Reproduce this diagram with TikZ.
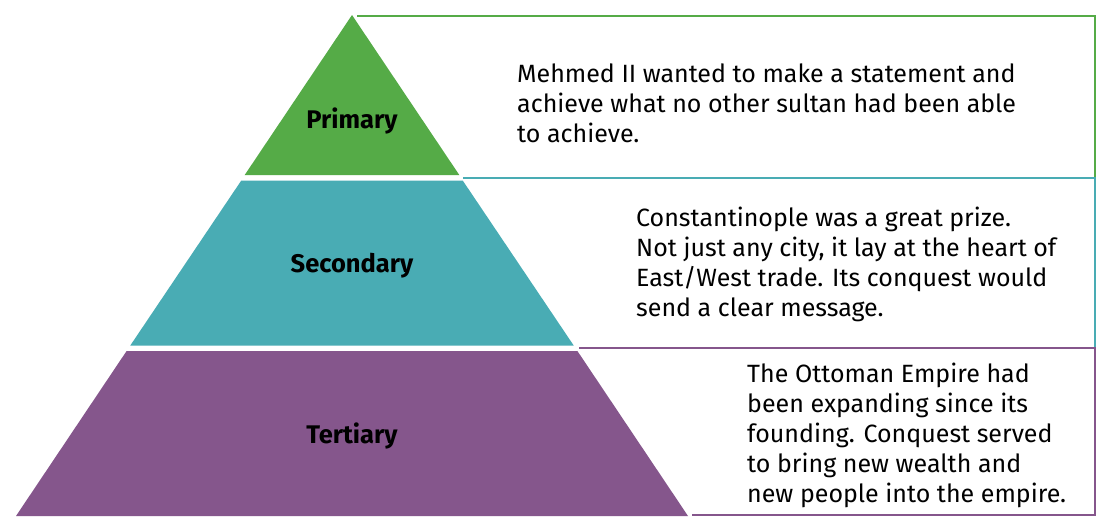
\documentclass[tikz,border=0pt]{standalone}
\usepackage{fontspec}
\setmainfont{Fira Sans}
\definecolor{primgreen}{RGB}{85,171,71}
\definecolor{secteal}{RGB}{73,172,180}
\definecolor{terpurple}{RGB}{133,86,140}
\begin{document}
\begin{tikzpicture}[x=1pt,y=-1pt,
  tierlabel/.style={font=\fontsize{25.5}{30}\selectfont\bfseries, text=black},
  desc/.style={anchor=base west, align=left, inner sep=0pt,
    font=\fontsize{25}{30}\selectfont, text=black},
  frame/.style={line width=2.6pt}]
  % canvas
  \useasboundingbox (0,0) rectangle (1100,523);
  \fill[white] (0,0) rectangle (1100,523);

  % pyramid tiers
  \fill[primgreen] (352,15) -- (459.3,175) -- (244.7,175) -- cycle;
  \fill[secteal] (241.3,180.5) -- (462.7,180.5) -- (573.7,345.5) -- (130.3,345.5) -- cycle;
  \fill[terpurple] (126.6,351) -- (577.4,351) -- (688,516) -- (16,516) -- cycle;

  % outline boxes beside each tier
  \draw[frame, primgreen] (357,16) -- (1095,16) -- (1095,177);
  \draw[frame, secteal] (463,178) -- (1095,178) -- (1095,347);
  \draw[frame, terpurple] (579,348) -- (1095,348) -- (1095,515) -- (692,515);

  % tier names
  \node[tierlabel] (primary) at (352,121) {Primary};
  \node[tierlabel] (secondary) at (352,266) {Secondary};
  \node[tierlabel] (tertiary) at (352,436) {Tertiary};

  % descriptions (anchored at the baseline of their last line)
  \node[desc] (primtext) at (517,142) {Mehmed II wanted to make a statement and\\achieve what no other sultan had been able\\to achieve.};
  \node[desc] (sectext) at (636,316) {Constantinople was a great prize.\\Not just any city, it lay at the heart of\\East/West trade. Its conquest would\\send a clear message.};
  \node[desc] (tertext) at (747,502) {The Ottoman Empire had\\been expanding since its\\founding. Conquest served\\to bring new wealth and\\new people into the empire.};
\end{tikzpicture}
\end{document}
